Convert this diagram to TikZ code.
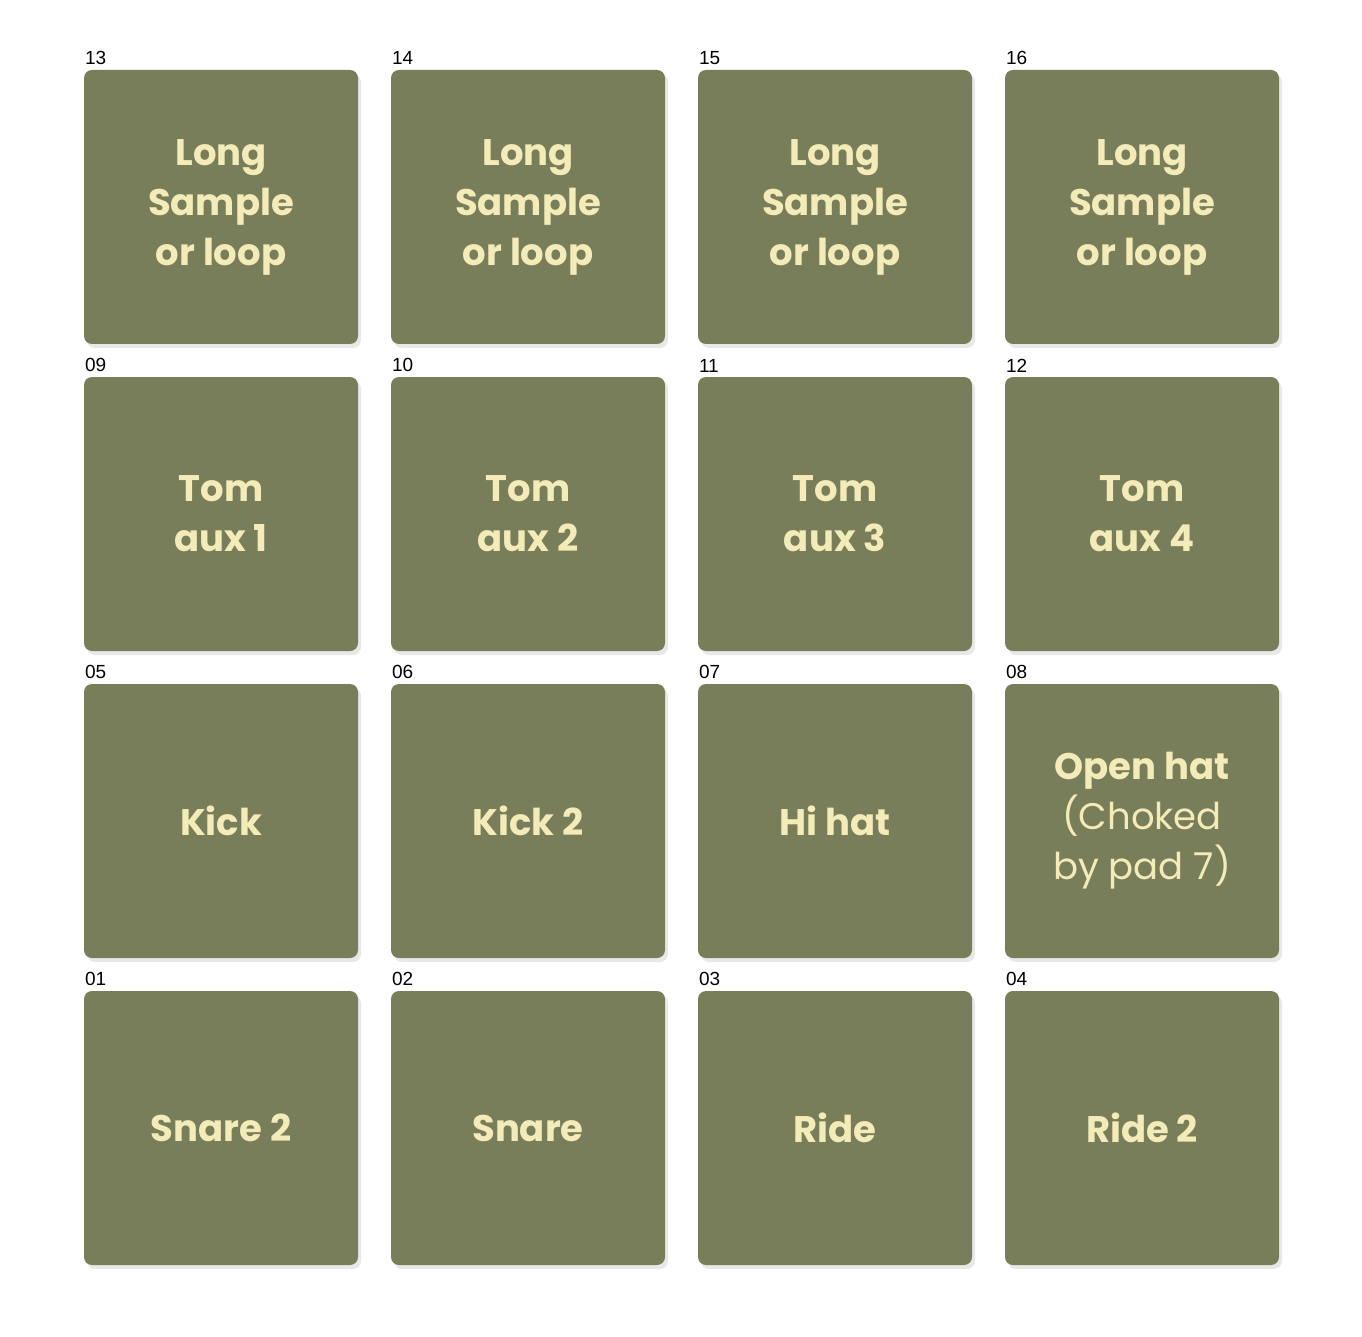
\documentclass[tikz,border=0pt]{standalone}
\usepackage{fontspec}
\setmainfont{Poppins}
\newfontfamily\numfont{Liberation Sans}
\usetikzlibrary{shadows, positioning}
\definecolor{pad_green}{RGB}{120, 125, 90}
\definecolor{pad_cream}{RGB}{243, 235, 184}
\tikzset {
  pad/.style = {fill=pad_green, rectangle, rounded corners=8pt, minimum width=274pt, minimum height=274pt, outer sep=0pt, inner sep=0pt, text=pad_cream, align=center, font=\fontsize{37}{50}\selectfont\bfseries, drop shadow={opacity=0.18, shadow xshift=3pt, shadow yshift=-4pt}},
  padnum/.style = {anchor=south west, inner sep=0pt, outer sep=0pt, xshift=1pt, yshift=5pt, font=\numfont\fontsize{19}{19}\selectfont},
  thin/.style = {font=\fontsize{37}{50}\selectfont\mdseries}
}

\begin{document}
\begin{tikzpicture}[x=1pt, y=-1pt, node distance=33pt]
    \useasboundingbox (0,0) rectangle (1362,1337);

    \node[pad] (p13) at (221,207) {Long\\Sample\\or loop};
    \node[pad, right=of p13] (p14) {Long\\Sample\\or loop};
    \node[pad, right=of p14] (p15) {Long\\Sample\\or loop};
    \node[pad, right=of p15] (p16) {Long\\Sample\\or loop};

    \node[pad, below=of p13] (p09) {Tom\\aux 1};
    \node[pad, below=of p14] (p10) {Tom\\aux 2};
    \node[pad, below=of p15] (p11) {Tom\\aux 3};
    \node[pad, below=of p16] (p12) {Tom\\aux 4};

    \node[pad, below=of p09] (p05) {Kick};
    \node[pad, below=of p10] (p06) {Kick 2};
    \node[pad, below=of p11] (p07) {Hi hat};
    \node[pad, below=of p12] (p08) {Open hat\\{\mdseries(Choked}\\{\mdseries by pad 7)}};

    \node[pad, below=of p05] (p01) {Snare 2};
    \node[pad, below=of p06] (p02) {Snare};
    \node[pad, below=of p07] (p03) {Ride};
    \node[pad, below=of p08] (p04) {Ride 2};

    % pad numbers
    \foreach \n in {01,02,03,04,05,06,07,08,09,10,11,12,13,14,15,16}
      \node[padnum] (n\n) at (p\n.north west) {\n};

  \end{tikzpicture}
\end{document}
